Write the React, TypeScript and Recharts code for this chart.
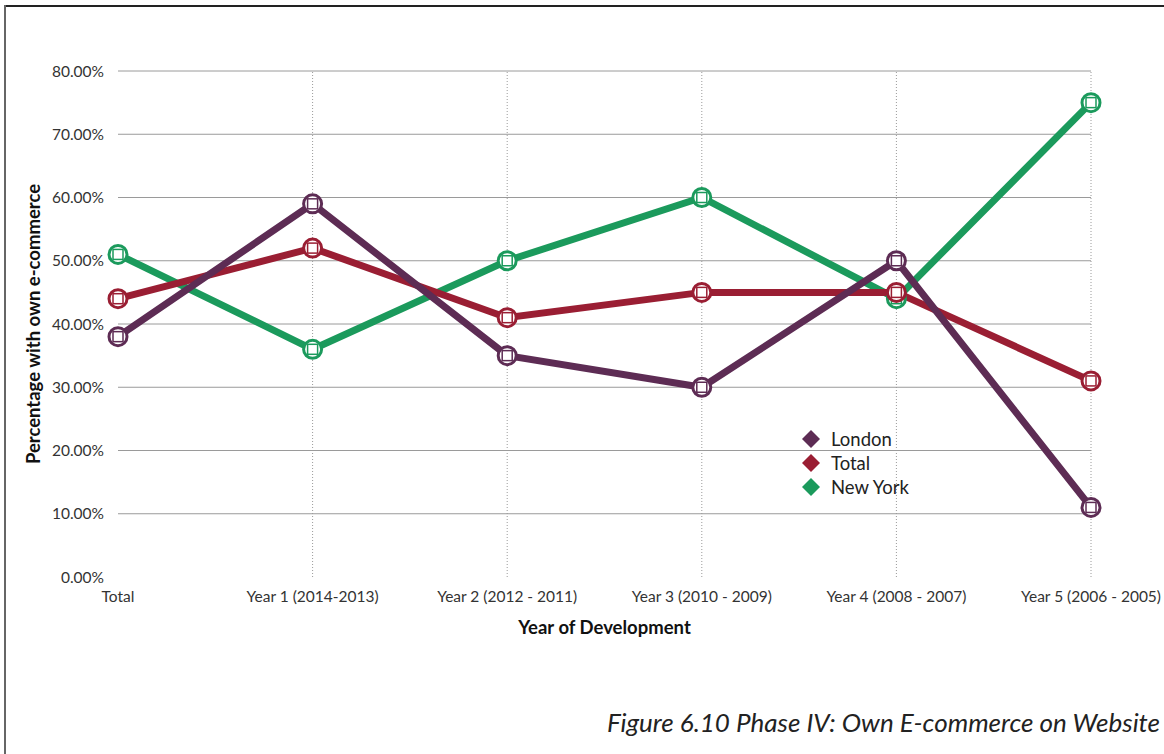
import { LineChart, Line, XAxis, YAxis, ReferenceLine, Label } from 'recharts';

const categories = [
  'Total',
  'Year 1 (2014-2013)',
  'Year 2 (2012 - 2011)',
  'Year 3 (2010 - 2009)',
  'Year 4 (2008 - 2007)',
  'Year 5 (2006 - 2005)',
];

const london = [38, 59, 35, 30, 50, 11];
const total = [44, 52, 41, 45, 45, 31];
const newYork = [51, 36, 50, 60, 44, 75];

const yTicks = [0, 10, 20, 30, 40, 50, 60, 70, 80];

const COLORS = { london: '#5d2c54', total: '#9a1e33', newYork: '#1b9a5c' };

const legendItems = [
  { name: 'London', color: COLORS.london },
  { name: 'Total', color: COLORS.total },
  { name: 'New York', color: COLORS.newYork },
];

const data = categories.map((cat, i) => ({
  cat,
  london: london[i],
  total: total[i],
  newYork: newYork[i],
}));

const FONT = 'Lato, "Open Sans", sans-serif';

// ring marker with a small square in the middle
function ringDot(color: string) {
  return (props: any) => {
    const { cx, cy, index } = props;
    if (cx == null || cy == null) return <g key={index} />;
    return (
      <g key={index}>
        <circle cx={cx} cy={cy} r={9} fill="#fff" stroke={color} strokeWidth={3} />
        <rect x={cx - 5} y={cy - 5} width={10} height={10} fill="#fff" stroke={color} strokeWidth={1.5} />
      </g>
    );
  };
}

function DiamondLegend() {
  return (
    <div style={{ position: 'absolute', left: 800, top: 427, fontFamily: FONT, fontSize: 18.5, color: '#222' }}>
      {legendItems.map((it) => (
        <div key={it.name} style={{ display: 'flex', alignItems: 'center', height: 24 }}>
          <svg width={22} height={22} style={{ marginRight: 9 }}>
            <polygon points="11,2 20,11 11,20 2,11" fill={it.color} />
          </svg>
          <span>{it.name}</span>
        </div>
      ))}
    </div>
  );
}

export default function App() {
  return (
    <div style={{ position: 'absolute', left: 0, top: 0, width: 1164, height: 754, background: '#fff', overflow: 'hidden' }}>
      <LineChart
        width={1164}
        height={754}
        data={data}
        margin={{ top: 71, right: 73, bottom: 117, left: 18 }}
        style={{ fontFamily: FONT }}
      >
        {yTicks.filter((t) => t > 0).map((t) => (
          <ReferenceLine key={t} y={t} stroke="#9a9a9a" strokeWidth={1} />
        ))}
        {categories.slice(1).map((c) => (
          <ReferenceLine key={c} x={c} stroke="#9a9a9a" strokeDasharray="1 2" />
        ))}
        <XAxis
          dataKey="cat"
          axisLine={false}
          tickLine={false}
          tickMargin={8}
          height={60}
          interval={0}
          tick={{ fontSize: 15.5, fill: '#333', fontFamily: FONT }}
        >
          <Label
            value="Year of Development"
            position="insideBottom"
            offset={3}
            style={{ fontSize: 18.5, fontWeight: 700, fill: '#111', fontFamily: FONT }}
          />
        </XAxis>
        <YAxis
          domain={[0, 80]}
          ticks={yTicks}
          width={100}
          axisLine={false}
          tickLine={false}
          tickMargin={8}
          tickFormatter={(v: number) => `${v.toFixed(2)}%`}
          tick={{ fontSize: 15.5, fill: '#333', fontFamily: FONT }}
        >
          <Label
            value="Percentage with own e-commerce"
            angle={-90}
            position="insideLeft"
            offset={15}
            style={{ textAnchor: 'middle', fontSize: 18.5, fontWeight: 700, fill: '#111', fontFamily: FONT }}
          />
        </YAxis>
        <Line
          dataKey="newYork"
          name="New York"
          stroke={COLORS.newYork}
          strokeWidth={7}
          dot={ringDot(COLORS.newYork)}
          activeDot={false}
          isAnimationActive={false}
        />
        <Line
          dataKey="total"
          name="Total"
          stroke={COLORS.total}
          strokeWidth={7}
          dot={ringDot(COLORS.total)}
          activeDot={false}
          isAnimationActive={false}
        />
        <Line
          dataKey="london"
          name="London"
          stroke={COLORS.london}
          strokeWidth={7}
          dot={ringDot(COLORS.london)}
          activeDot={false}
          isAnimationActive={false}
        />
      </LineChart>
      <DiamondLegend />
      <div
        style={{
          position: 'absolute', right: 4, top: 706, fontFamily: FONT, fontStyle: 'italic',
          fontSize: 26, color: '#222', whiteSpace: 'nowrap',
        }}
      >
        Figure 6.10 Phase IV: Own E-commerce on Website
      </div>
      {/* page frame: top and left rules */}
      <div style={{ position: 'absolute', left: 4, top: 5, right: 0, height: 2, background: '#222', zIndex: 2 }} />
      <div style={{ position: 'absolute', left: 4, top: 5, bottom: 0, width: 2, background: '#666', zIndex: 2 }} />
    </div>
  );
}
